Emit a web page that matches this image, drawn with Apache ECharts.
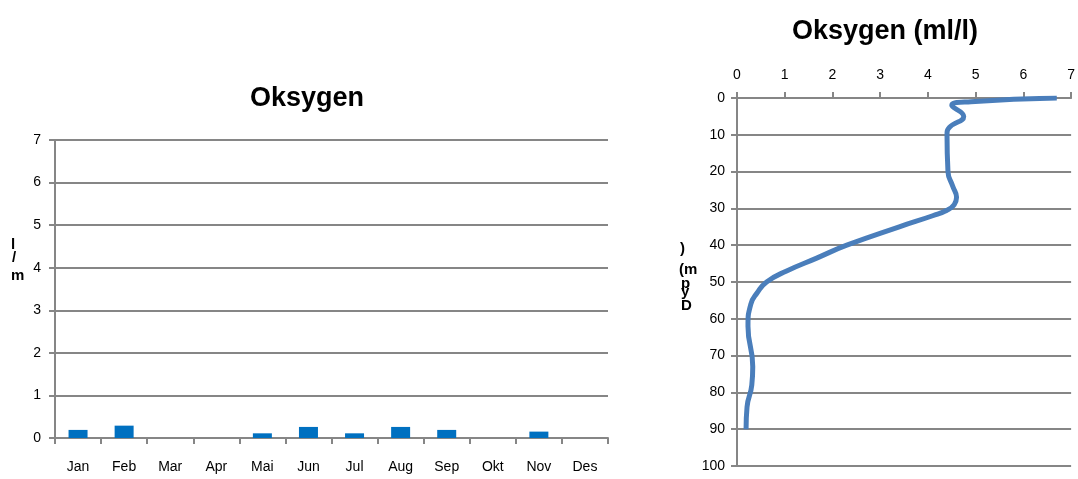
<!DOCTYPE html>
<html>
<head>
<meta charset="utf-8">
<script src="https://cdn.jsdelivr.net/npm/echarts@6/dist/echarts.min.js"></script>
<style>html,body{margin:0;padding:0;background:#fff}#c{width:1078px;height:479px}</style>
</head>
<body>
<div id="c"></div>
<script>
const months = ['Jan','Feb','Mar','Apr','Mai','Jun','Jul','Aug','Sep','Okt','Nov','Des'];
const monthlyOxygen = [0.19, 0.29, null, null, 0.11, 0.26, 0.11, 0.26, 0.19, null, 0.15, null];
const profileDepth  = [0, 1, 2, 5, 8, 10, 20, 24, 27, 29, 30.5, 32, 35, 40, 43.5, 47, 50, 53, 56, 62, 73, 78, 84, 90];
const profileOxygen = [6.7, 4.9, 4.5, 4.75, 4.45, 4.4, 4.42, 4.52, 4.6, 4.55, 4.4, 4.1, 3.4, 2.3, 1.67, 1.04, 0.62, 0.42, 0.29, 0.23, 0.33, 0.31, 0.21, 0.19];

const gridColor = '#868686';
const font = 'Liberation Sans';
const chart = echarts.init(document.getElementById('c'));
const axisLineStyle = {color: gridColor, width: 2};
chart.setOption({
  animation: false,
  textStyle: {fontFamily: font},
  title: [
    {text: 'Oksygen', left: 302, top: 80, textAlign: 'center',
     textStyle: {fontFamily: font, fontSize: 27, fontWeight: 'bold', color: '#000'}},
    {text: 'Oksygen (ml/l)', left: 880, top: 13, textAlign: 'center',
     textStyle: {fontFamily: font, fontSize: 27, fontWeight: 'bold', color: '#000'}}
  ],
  grid: [
    {left: 55, right: 470, top: 140, bottom: 41},
    {left: 737, right: 5, top: 98, bottom: 13}
  ],
  xAxis: [
    {gridIndex: 0, type: 'category', data: months,
     axisLine: {lineStyle: axisLineStyle},
     axisTick: {show: true, length: 6, lineStyle: axisLineStyle, alignWithLabel: false},
     axisLabel: {color: '#000', fontSize: 14, margin: 22, fontFamily: font},
     splitLine: {show: false}},
    {gridIndex: 1, type: 'value', position: 'top', min: 0, max: 7, interval: 1,
     axisLine: {show: true, lineStyle: axisLineStyle},
     axisTick: {show: true, length: 6, lineStyle: axisLineStyle},
     axisLabel: {color: '#000', fontSize: 14, margin: 16, fontFamily: font},
     splitLine: {show: false}}
  ],
  yAxis: [
    {gridIndex: 0, type: 'value', min: 0, max: 7, interval: 1,
     axisLine: {show: true, lineStyle: axisLineStyle},
     axisTick: {show: true, length: 6, lineStyle: axisLineStyle},
     axisLabel: {color: '#000', fontSize: 14, margin: 14, fontFamily: font},
     splitLine: {show: true, lineStyle: axisLineStyle}},
    {gridIndex: 1, type: 'value', inverse: true, min: 0, max: 100, interval: 10,
     axisLine: {show: true, lineStyle: axisLineStyle},
     axisTick: {show: true, length: 6, lineStyle: axisLineStyle},
     axisLabel: {color: '#000', fontSize: 14, margin: 12, fontFamily: font},
     splitLine: {show: true, lineStyle: axisLineStyle}}
  ],
  series: [
    {type: 'bar', xAxisIndex: 0, yAxisIndex: 0, data: monthlyOxygen,
     barWidth: 19, itemStyle: {color: '#0070C0'}},
    {type: 'line', xAxisIndex: 1, yAxisIndex: 1,
     data: profileDepth.map((d, i) => [profileOxygen[i], d]),
     smooth: 0.5, showSymbol: false,
     lineStyle: {color: '#4A7EBB', width: 5}}
  ],
  graphic: [
    {type: 'text', left: 11, top: 237, style: {text: 'l', font: 'bold 15px Liberation Sans', fill: '#000'}},
    {type: 'text', left: 12, top: 250, style: {text: '/', font: 'bold 15px Liberation Sans', fill: '#000'}},
    {type: 'text', left: 11, top: 268, style: {text: 'm', font: 'bold 15px Liberation Sans', fill: '#000'}},
    {type: 'text', left: 680, top: 241, style: {text: ')', font: 'bold 15px Liberation Sans', fill: '#000'}},
    {type: 'text', left: 679, top: 262, style: {text: '(m', font: 'bold 15px Liberation Sans', fill: '#000'}},
    {type: 'text', left: 681, top: 276, style: {text: 'p', font: 'bold 15px Liberation Sans', fill: '#000'}},
    {type: 'text', left: 681, top: 284, style: {text: 'y', font: 'bold 15px Liberation Sans', fill: '#000'}},
    {type: 'text', left: 681, top: 298, style: {text: 'D', font: 'bold 15px Liberation Sans', fill: '#000'}}
  ]
});
</script>
</body>
</html>
